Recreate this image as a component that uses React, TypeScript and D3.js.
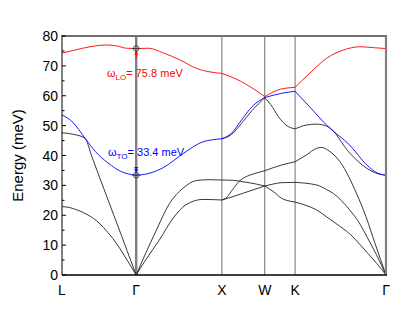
import * as React from "react";
import * as d3 from "d3";

// high symmetry points along the path (distance in 2pi/a units)
const pointLabels = ["L", "Γ", "X", "W", "K", "Γ"];
const pointK = [0, 0.866, 1.866, 2.366, 2.72, 3.781];

const yTicks = [0, 10, 20, 30, 40, 50, 60, 70, 80];
const yMinorTicks = [5, 15, 25, 35, 45, 55, 65, 75];

// branches: [path position, energy meV]; path position = segment index + fraction
const loBranch = [
  [0, 74.3], [0.14, 75.1], [0.28, 75.9], [0.45, 76.7], [0.6, 77.0], [0.75, 76.6], [0.87, 75.9], [1, 75.8],
  [1.15, 75.9], [1.31, 74.4], [1.51, 72.0], [1.7, 69.2], [1.9, 67.8], [2, 67.5],
  [2.46, 64.7], [2.78, 61.9], [3, 59.7],
  [3.55, 62.3], [4, 62.8],
  [4.16, 67.5], [4.345, 72.5], [4.53, 75.3], [4.714, 76.4], [4.86, 76.1], [5, 75.8],
];

const toBranch = [
  [0, 53.6], [0.15, 51.0], [0.31, 45.8], [0.45, 41.3], [0.62, 37.5], [0.8, 34.6], [1, 33.4],
  [1.1, 33.7], [1.3, 35.7], [1.58, 41.3], [1.78, 44.6], [2, 45.6],
  [2.22, 47.4], [2.46, 51.9], [2.7, 56.3], [3, 59.4],
  [3.55, 60.8], [4, 61.5],
  [4.16, 56.3], [4.365, 49.6], [4.6, 43.5], [4.79, 36.8], [4.9, 34.2], [5, 33.4],
];

const laBranch = [
  [0, 47.6], [0.15, 47.1], [0.31, 45.8], [0.4, 39.8], [0.5, 33.1], [0.6, 26.5], [0.7, 19.9], [0.8, 13.3], [0.9, 6.6], [1, 0],
  [1.1, 6.6], [1.235, 15.0], [1.39, 24.0], [1.545, 29.0], [1.7, 31.6], [1.85, 31.9], [2, 31.8],
  [2.25, 31.7], [2.5, 31.2], [2.75, 30.6], [3, 29.8],
  [3.3, 30.5], [3.55, 30.9], [4, 31.0],
  [4.24, 30.1], [4.347, 28.6], [4.42, 27.3], [4.6, 21.8], [4.715, 17.0], [4.79, 12.8], [4.9, 6.5], [5, 0],
];

const taBranch = [
  [0, 22.9], [0.1, 22.6], [0.2, 21.8], [0.35, 20.1], [0.5, 17.4], [0.62, 14.2], [0.75, 10.0], [0.87, 5.3], [1, 0],
  [1.1, 4.6], [1.27, 11.7], [1.43, 19.0], [1.58, 23.5], [1.78, 25.3], [2, 25.1],
  [2.1, 25.8], [2.25, 28.6], [2.4, 31.3], [2.55, 32.8], [2.75, 33.9], [3, 34.9],
  [3.55, 36.8], [4, 37.9],
  [4.126, 40.2], [4.236, 42.4], [4.29, 42.7], [4.36, 41.8], [4.494, 37.9], [4.68, 27.0], [4.78, 19.5], [4.88, 10.5], [5, 0],
];

const taLowBranch = [
  [2, 25.1], [2.25, 26.2], [2.5, 27.4], [2.75, 28.6], [3, 29.8],
  [3.3, 27.8], [3.55, 25.7], [3.8, 24.8], [4, 24.4],
  [4.12, 23.3], [4.236, 21.8], [4.35, 19.4], [4.47, 16.8], [4.6, 13.8], [4.72, 10.0], [4.79, 7.6], [4.9, 3.8], [5, 0],
];

const toLowBranch = [
  [2, 45.6], [2.22, 47.0], [2.46, 50.8], [2.7, 55.0], [3, 59.3],
  [3.2, 57.0], [3.45, 53.0], [3.7, 50.2], [4, 48.9],
  [4.126, 50.2], [4.236, 50.5], [4.365, 49.6], [4.604, 40.7], [4.789, 35.7], [4.9, 34.0], [5, 33.4],
];

const gammaLO = 75.8;
const gammaTO = 33.4;

const font = "'Liberation Sans', Arial, sans-serif";

const toK = (p: number) => {
  const i = Math.min(Math.floor(p), pointK.length - 2);
  return pointK[i] + (p - i) * (pointK[i + 1] - pointK[i]);
};

const App = () => {
  const width = 415;
  const height = 318;
  const left = 62, right = 386, top = 36, bottom = 275;

  const x = d3.scaleLinear().domain([0, pointK[pointK.length - 1]]).range([left, right]);
  const y = d3.scaleLinear().domain([0, 80]).range([bottom, top]);

  const line = d3
    .line<number[]>()
    .x(d => x(toK(d[0])))
    .y(d => y(d[1]))
    .curve(d3.curveMonotoneX);

  // draw every segment on its own so the kinks at the symmetry points stay
  const segments = (branch: number[][]) => {
    const out: string[] = [];
    for (let s = 0; s < pointK.length - 1; s++) {
      const pts = branch.filter(d => d[0] >= s && d[0] <= s + 1);
      if (pts.length >= 2) out.push(line(pts) as string);
    }
    return out;
  };

  const blacks = [laBranch, taBranch, taLowBranch, toLowBranch];
  const gx = x(pointK[1]);

  return (
    <svg width={width} height={height} style={{ position: "absolute", left: 0, top: 0, background: "#fff" }} fontFamily={font}>
      {/* symmetry point lines */}
      {pointK.slice(2, 5).map((k, i) => (
        <line key={i} x1={x(k)} x2={x(k)} y1={top} y2={bottom} stroke="#707070" strokeWidth={1} />
      ))}
      <line x1={gx} x2={gx} y1={top} y2={bottom} stroke="#808080" strokeWidth={2.4} />

      {blacks.map((b, i) =>
        segments(b).map((d, j) => <path key={`k${i}-${j}`} d={d} fill="none" stroke="#222" strokeWidth={0.9} />)
      )}
      {segments(toBranch).map((d, j) => <path key={`b${j}`} d={d} fill="none" stroke="#0000ff" strokeWidth={0.9} />)}
      {segments(loBranch).map((d, j) => <path key={`r${j}`} d={d} fill="none" stroke="#ff0000" strokeWidth={0.9} />)}

      {/* frame */}
      <line x1={left} x2={right + 1} y1={top} y2={top} stroke="#707070" strokeWidth={2} />
      <line x1={right} x2={right} y1={top} y2={bottom} stroke="#808080" strokeWidth={2.2} />
      <line x1={left} x2={left} y1={top - 1} y2={bottom} stroke="#000" strokeWidth={1} />
      <line x1={left} x2={right + 1} y1={bottom} y2={bottom} stroke="#000" strokeWidth={1.4} />

      {yTicks.map(t => (
        <g key={t}>
          <line x1={left} x2={left + 4} y1={y(t)} y2={y(t)} stroke="#000" />
          <text x={left - 4} y={y(t)} dy="0.36em" textAnchor="end" fontSize={14}>{t}</text>
        </g>
      ))}
      {yMinorTicks.map(t => (
        <line key={t} x1={left} x2={left + 2.5} y1={y(t)} y2={y(t)} stroke="#000" />
      ))}

      {pointLabels.map((l, i) => (
        <text key={i} x={x(pointK[i])} y={295} textAnchor="middle" fontSize={14}>{l}</text>
      ))}

      <text transform={`translate(23,${(top + bottom) / 2}) rotate(-90)`} textAnchor="middle" fontSize={15}>Energy (meV)</text>

      {/* Gamma point markers */}
      <line x1={gx} x2={gx} y1={y(gammaLO) + 3} y2={y(gammaLO) + 10} stroke="#ff0000" strokeWidth={1} />
      <path d={`M${gx - 2},${y(gammaLO) + 6} L${gx},${y(gammaLO) + 3} L${gx + 2},${y(gammaLO) + 6} Z`} fill="#ff0000" />
      <line x1={gx - 2} x2={gx + 2} y1={y(gammaTO) - 7.5} y2={y(gammaTO) - 7.5} stroke="#0000ff" strokeWidth={1} />
      <line x1={gx} x2={gx} y1={y(gammaTO) - 7.5} y2={y(gammaTO) - 3} stroke="#0000ff" strokeWidth={1} />
      <path d={`M${gx - 2},${y(gammaTO) - 6} L${gx},${y(gammaTO) - 3} L${gx + 2},${y(gammaTO) - 6} Z`} fill="#0000ff" />
      {[gammaLO, gammaTO].map(e => (
        <g key={e}>
          <circle cx={gx} cy={y(e)} r={2.8} fill="none" stroke="#333" strokeWidth={0.8} />
          <line x1={gx - 4.5} x2={gx + 4.5} y1={y(e)} y2={y(e)} stroke="#333" strokeWidth={0.8} />
        </g>
      ))}

      <text x={107} y={77} fill="#ff0000" fontSize={11}>
        ω<tspan fontSize={8} dy={3}>LO</tspan><tspan fontSize={11} dy={-3}>= {gammaLO} meV</tspan>
      </text>
      <text x={108} y={156} fill="#0000ff" fontSize={11}>
        ω<tspan fontSize={8} dy={3}>TO</tspan><tspan fontSize={11} dy={-3}>= {gammaTO} meV</tspan>
      </text>
    </svg>
  );
};

export default App;
